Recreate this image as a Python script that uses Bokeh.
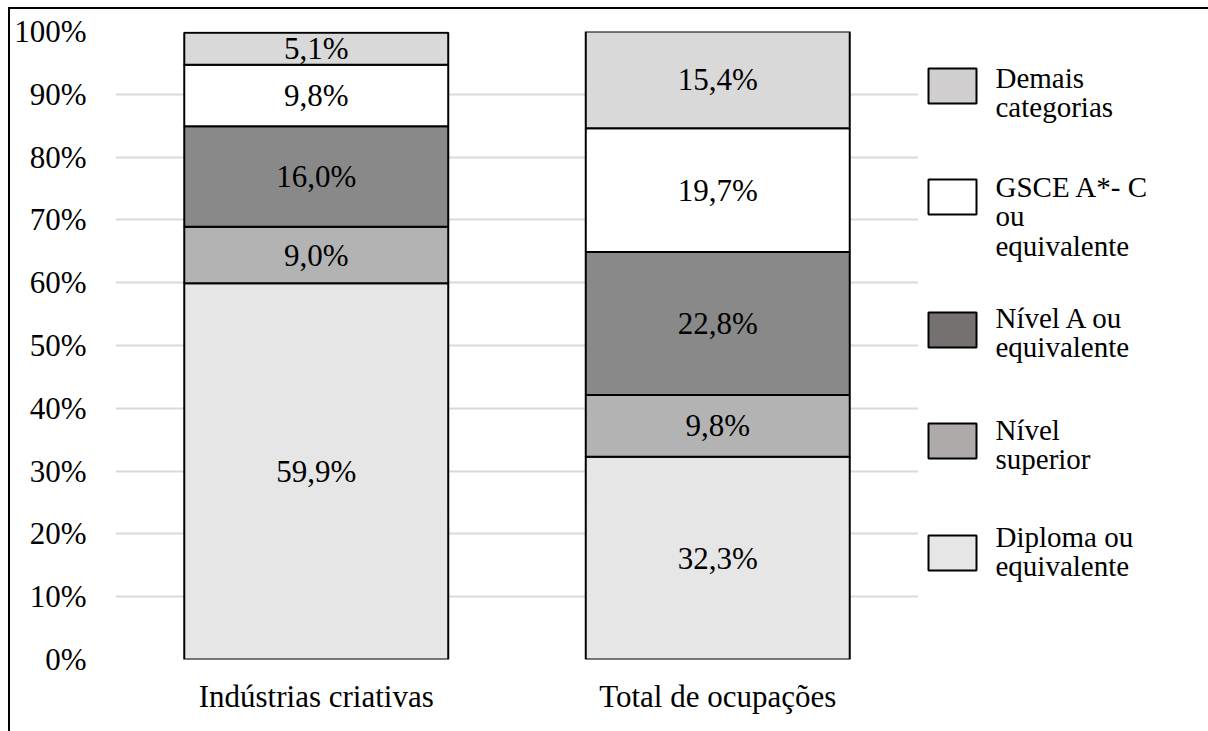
from bokeh.plotting import figure
from bokeh.layouts import row
from bokeh.models import (ColumnDataSource, LabelSet, FactorRange, Range1d,
                          FixedTicker, PrintfTickFormatter)
from bokeh.core.properties import value
from bokeh.embed import file_html
from bokeh.resources import INLINE

# ---------------- data ----------------
categories = ["Indústrias criativas", "Total de ocupações"]
series_keys = ["diploma", "nivel_superior", "nivel_a", "gsce", "demais"]
diploma = [59.9, 32.3]
nivel_superior = [9.0, 9.8]
nivel_a = [16.0, 22.8]
gsce = [9.8, 19.7]
demais = [5.1, 15.4]
y_ticks = [0, 10, 20, 30, 40, 50, 60, 70, 80, 90, 100]

legend_order = ["demais", "gsce", "nivel_a", "nivel_superior", "diploma"]
legend_labels = {
    "demais": "Demais\ncategorias",
    "gsce": "GSCE A*- C\nou\nequivalente",
    "nivel_a": "Nível A ou\nequivalente",
    "nivel_superior": "Nível\nsuperior",
    "diploma": "Diploma ou\nequivalente",
}

# ---------------- styles ----------------
bar_colors = {"diploma": "#e6e6e6", "nivel_superior": "#b3b3b3",
              "nivel_a": "#898989", "gsce": "#ffffff", "demais": "#d9d9d9"}
legend_colors = {"diploma": "#e7e6e6", "nivel_superior": "#aeaaaa",
                 "nivel_a": "#767171", "gsce": "#ffffff", "demais": "#d0cece"}
FONT = "Liberation Serif"

series = {"diploma": diploma, "nivel_superior": nivel_superior,
          "nivel_a": nivel_a, "gsce": gsce, "demais": demais}

source = ColumnDataSource(dict(cat=categories, **series))

CANVAS_H = 722
B_TOP, B_BOT = 22, 72
FRAME_H = CANVAS_H - B_TOP - B_BOT
p = figure(x_range=FactorRange(*categories), y_range=(0, 100),
           width=908, height=CANVAS_H, output_backend="svg",
           toolbar_location=None,
           min_border_left=105, min_border_right=0,
           min_border_top=B_TOP, min_border_bottom=B_BOT)

p.vbar_stack(series_keys, x="cat", width=0.6575, source=source,
             fill_color=[bar_colors[k] for k in series_keys],
             line_color="black", line_width=2)

# value labels
lx, ly, lt = [], [], []
for i, c in enumerate(categories):
    bottom = 0.0
    for k in series_keys:
        v = series[k][i]
        lx.append(c)
        ly.append(bottom + v / 2)
        lt.append(f"{v:.1f}%".replace(".", ","))
        bottom += v
lsrc = ColumnDataSource(dict(x=lx, y=ly, t=lt))
p.add_layout(LabelSet(x="x", y="y", text="t", source=lsrc,
                      text_align="center", text_baseline="middle",
                      text_font=value(FONT), text_font_size="31px",
                      text_color="black"))

# axes
p.yaxis.ticker = FixedTicker(ticks=y_ticks)
p.yaxis.formatter = PrintfTickFormatter(format="%d%%")
for ax in (p.xaxis[0], p.yaxis[0]):
    ax.axis_line_color = None
    ax.major_tick_line_color = None
    ax.minor_tick_line_color = None
    ax.major_tick_out = 0
    ax.major_tick_in = 0
    ax.major_label_text_font = FONT
    ax.major_label_text_font_size = "31px"
    ax.major_label_text_color = "black"
p.yaxis.major_label_standoff = 29
p.xaxis.major_label_standoff = 19

p.xgrid.grid_line_color = None
p.ygrid.grid_line_color = "#d9d9d9"
p.ygrid.grid_line_width = 2
p.outline_line_color = None
p.background_fill_color = "white"
p.border_fill_color = "white"

# ---------------- legend (separate panel, pixel layout from frame top) ----
LEG_W = 290
leg = figure(width=LEG_W, height=CANVAS_H, output_backend="svg",
             toolbar_location=None, x_axis_type=None, y_axis_type=None,
             x_range=Range1d(0, LEG_W), y_range=Range1d(FRAME_H, 0),
             min_border_left=0, min_border_right=0,
             min_border_top=B_TOP, min_border_bottom=B_BOT)
leg.grid.visible = False
leg.outline_line_color = None
leg.background_fill_color = "white"
leg.border_fill_color = "white"

sw_left, sw_w, sw_h, txt_x = 10, 48, 35, 77
swatch_tops = [37, 148, 281, 392, 504]
text_tops = [30, 139, 270, 382, 489]
lsrc2 = ColumnDataSource(dict(
    left=[sw_left] * len(legend_order),
    right=[sw_left + sw_w] * len(legend_order),
    top=swatch_tops,
    bottom=[t + sw_h for t in swatch_tops],
    color=[legend_colors[k] for k in legend_order],
    tx=[txt_x] * len(legend_order),
    ty=text_tops,
    label=[legend_labels[k] for k in legend_order],
))
leg.quad(left="left", right="right", top="top", bottom="bottom",
         fill_color="color", line_color="black", line_width=2, source=lsrc2)
leg.text(x="tx", y="ty", text="label", source=lsrc2,
         text_baseline="top", text_align="left",
         text_font=value(FONT), text_font_size="29px",
         text_line_height=0.93, text_color="black")

layout = row(p, leg, spacing=0)
layout.styles = {"margin-left": "8px", "margin-top": "7px",
                 "border-left": "2px solid black",
                 "border-top": "2px solid black"}

open("out.html", "w").write(file_html(layout, INLINE))
